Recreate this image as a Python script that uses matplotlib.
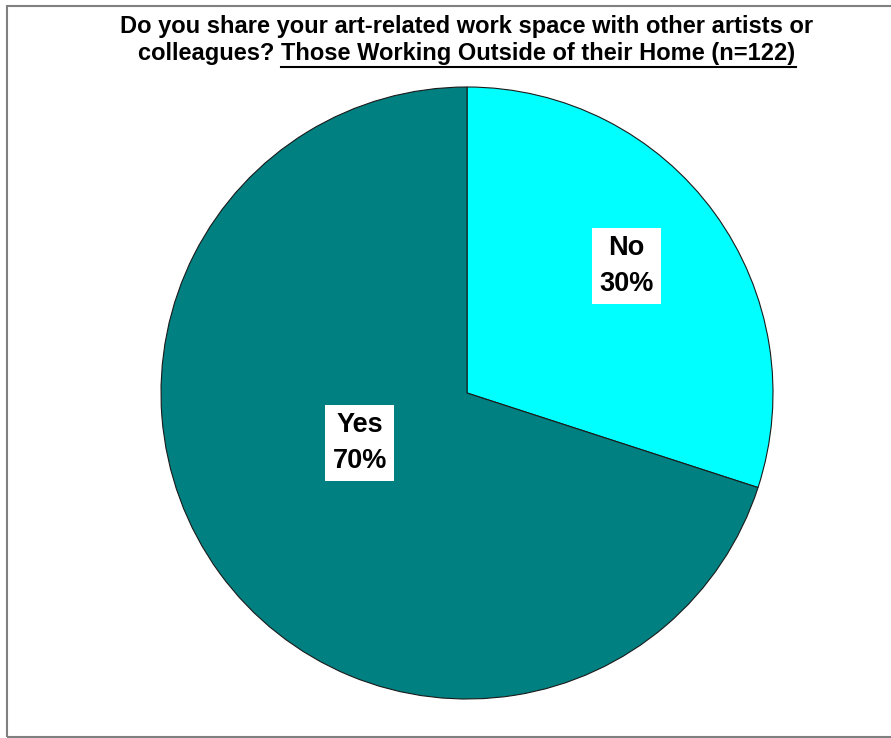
import matplotlib.pyplot as plt
from matplotlib.patches import Rectangle
from matplotlib.lines import Line2D

labels = ['No', 'Yes']
shares = [30, 70]
colors = ['#00FFFF', '#008080']
title_top = 'Do you share your art-related work space with other artists or'
title_plain = 'colleagues? '
title_under = 'Those Working Outside of their Home (n=122)'

W, H = 891, 738
fig = plt.figure(figsize=(W / 100, H / 100), dpi=100)
plt.rcParams['font.family'] = ['Liberation Sans', 'DejaVu Sans']

# pie centre and radius in pixels
cx, cy, r = 467, 393, 306
ax = fig.add_axes([(cx - r) / W, (H - cy - r) / H, 2 * r / W, 2 * r / H])
wedges, _ = ax.pie(shares, colors=colors, startangle=90, counterclock=False,
                   radius=1, wedgeprops=dict(edgecolor='#1a1a1a', linewidth=0.8))
ax.set_xlim(-1, 1)
ax.set_ylim(-1, 1)
ax.set_aspect('equal')
ax.axis('off')

label_pos = [(0.52, 0.415), (-0.35, -0.163)]
for lab, v, (x, y) in zip(labels, shares, label_pos):
    ax.text(x, y, f'{lab}\n{v}%', ha='center', va='center', fontsize=19.5,
            fontweight='bold', linespacing=1.5,
            bbox=dict(boxstyle='square,pad=0.27', fc='white', ec='none'))

# title
fs = 17
fig.text(cx / W, 1 - 33 / H, title_top, ha='center', va='baseline', fontsize=fs, fontweight='bold')
renderer = fig.canvas.get_renderer()
t1 = fig.text(0, 1 - 60 / H, title_plain, ha='left', va='baseline', fontsize=fs, fontweight='bold')
t2 = fig.text(0, 1 - 60 / H, title_under, ha='left', va='baseline', fontsize=fs, fontweight='bold')
w1 = t1.get_window_extent(renderer).width
w2 = t2.get_window_extent(renderer).width
x0 = cx - (w1 + w2) / 2
t1.set_x(x0 / W)
t2.set_x((x0 + w1) / W)
fig.add_artist(Line2D([(x0 + w1) / W, (x0 + w1 + w2) / W], [1 - 67 / H, 1 - 67 / H],
                      transform=fig.transFigure, color='black', linewidth=1.5))

# outer frame
fig.add_artist(Rectangle((7 / W, 1 - 737 / H), 1.0, (737 - 6) / H, transform=fig.transFigure,
                         fill=False, edgecolor='#808080', linewidth=1.5))

fig.savefig('out.png', dpi=100)
